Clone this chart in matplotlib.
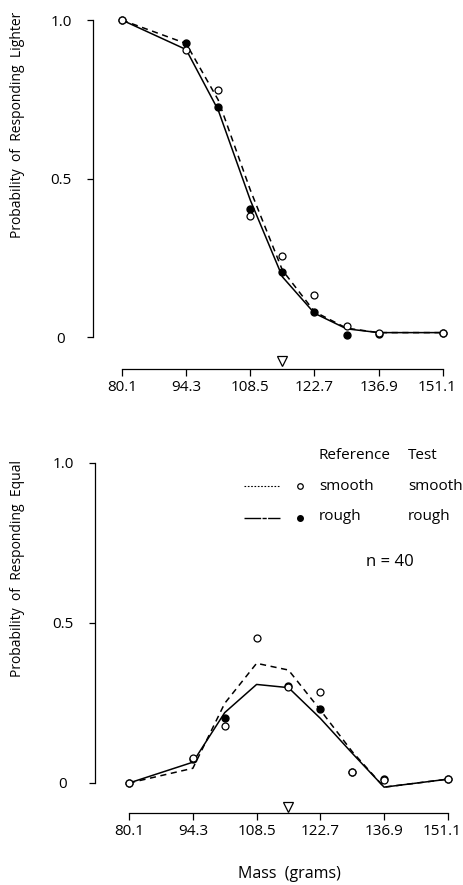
import numpy as np
import matplotlib
matplotlib.use('Agg')
import matplotlib.pyplot as plt
import matplotlib.transforms as mtransforms
from matplotlib.lines import Line2D

plt.rcParams['font.family'] = ['Open Sans', 'DejaVu Sans']
plt.rcParams['font.size'] = 10

W, H = 464, 885

# comparison masses (grams) and the standard
mass = [80.1, 94.3, 101.4, 108.5, 115.6, 122.7, 129.8, 136.9, 151.1]
tick_mass = [80.1, 94.3, 108.5, 122.7, 136.9, 151.1]
standard = 115.6

# probability of responding "lighter"
lighter_smooth_obs = [1.0, 0.905, 0.779, 0.382, 0.256, 0.132, 0.035, 0.012, 0.013]
lighter_rough_obs = [1.0, 0.928, 0.727, 0.405, 0.205, 0.080, 0.008, 0.010, 0.013]
lighter_smooth_fit = [1.0, 0.926, 0.748, 0.464, 0.211, 0.080, 0.028, 0.014, 0.014]
lighter_rough_fit = [1.0, 0.907, 0.716, 0.432, 0.190, 0.075, 0.026, 0.014, 0.014]

# probability of responding "equal"
equal_smooth_obs = [0.0, 0.077, 0.178, 0.454, 0.300, 0.283, 0.033, 0.010, 0.012]
equal_rough_obs = [0.0, 0.075, 0.204, np.nan, 0.304, 0.231, 0.035, 0.0125, 0.012]
equal_smooth_fit = [0.0, 0.046, 0.249, 0.374, 0.353, 0.228, 0.098, -0.013, 0.012]
equal_rough_fit = [0.0, 0.065, 0.220, 0.308, 0.298, 0.202, 0.093, -0.013, 0.012]


def fx(px):
    return px / W


def fy(py):
    return 1 - py / H


def style_panel(ax, ylabel, xlim, outward, label_xy):
    ax.set_xlim(*xlim)
    ax.set_ylim(-0.05, 1.05)
    for s in ['top', 'right']:
        ax.spines[s].set_visible(False)
    ax.spines['left'].set_bounds(0, 1)
    ax.spines['bottom'].set_bounds(tick_mass[0], tick_mass[-1])
    ax.spines['bottom'].set_position(('outward', outward))
    for s in ['left', 'bottom']:
        ax.spines[s].set_linewidth(0.9)
    ax.set_yticks([0, 0.5, 1.0])
    ax.set_yticklabels(['0', '0.5', '1.0'], ha='center')
    ax.set_xticks(tick_mass)
    ax.set_xticklabels([f'{m:.1f}' for m in tick_mass])
    ax.tick_params(axis='y', length=4, width=0.9, pad=19, labelsize=11)
    ax.tick_params(axis='x', length=5, width=0.9, pad=3, labelsize=11)
    # keep the last mass label inside the page
    last = ax.get_xticklabels()[-1]
    shift = mtransforms.ScaledTranslation(-6 / 100, 0, ax.figure.dpi_scale_trans)
    last.set_transform(last.get_transform() + shift)
    ax.set_ylabel(ylabel, fontsize=10)
    ax.yaxis.set_label_coords(*label_xy)
    # standard stimulus marker just above the mass axis
    ax.plot([standard], [-0.023], marker='v', ms=7, mfc='white', mec='black',
            mew=0.9, transform=ax.get_xaxis_transform(), clip_on=False)


def draw(ax, so, ro, sf, rf):
    ax.plot(mass, sf, color='black', lw=1.1, ls=(0, (4, 3)), clip_on=False)
    ax.plot(mass, rf, color='black', lw=1.1, clip_on=False)
    ax.plot(mass, ro, 'o', ms=5, color='black', clip_on=False)
    ax.plot(mass, so, 'o', ms=5, mfc='white', mec='black', mew=0.9, clip_on=False)


fig = plt.figure(figsize=(W / 100, H / 100), dpi=100)

ax1 = fig.add_axes([fx(93), fy(352.9), 360.7 / W, 348.7 / H])
draw(ax1, lighter_smooth_obs, lighter_rough_obs, lighter_smooth_fit, lighter_rough_fit)
style_panel(ax1, 'Probability  of  Responding  Lighter', (73.7, 153.5), 11.6,
            (-0.1885, 0.654))

ax2 = fig.add_axes([fx(95), fy(799), 363.6 / W, 352 / H])
draw(ax2, equal_smooth_obs, equal_rough_obs, equal_smooth_fit, equal_rough_fit)
style_panel(ax2, 'Probability  of  Responding  Equal', (72.5, 153.5), 10,
            (-0.1925, 0.656))
ax2.set_xlabel('Mass  (grams)', fontsize=11.5)
ax2.xaxis.set_label_coords(0.536, -0.19)

# key
key_fs = 11
fig.text(fx(319), fy(455), 'Reference', fontsize=key_fs, va='center')
fig.text(fx(408), fy(455), 'Test', fontsize=key_fs, va='center')
fig.text(fx(319), fy(486), 'smooth', fontsize=key_fs, va='center')
fig.text(fx(408), fy(486), 'smooth', fontsize=key_fs, va='center')
fig.text(fx(319), fy(517), 'rough', fontsize=key_fs, va='center')
fig.text(fx(408), fy(517), 'rough', fontsize=key_fs, va='center')
fig.add_artist(Line2D([fx(244), fx(280)], [fy(486), fy(486)], color='black',
                      lw=0.8, ls=(0, (1.5, 1.5))))
fig.add_artist(Line2D([fx(244), fx(280)], [fy(518), fy(518)], color='black',
                      lw=1.0, ls=(0, (12, 1, 3, 1))))
fig.add_artist(Line2D([fx(300)], [fy(486)], marker='o', ms=4, mfc='white',
                      mec='black', mew=0.9))
fig.add_artist(Line2D([fx(300)], [fy(518)], marker='o', ms=4, color='black'))
fig.text(fx(390), fy(562), 'n = 40', fontsize=12, ha='center', va='center')

fig.savefig('out.png', dpi=100)
